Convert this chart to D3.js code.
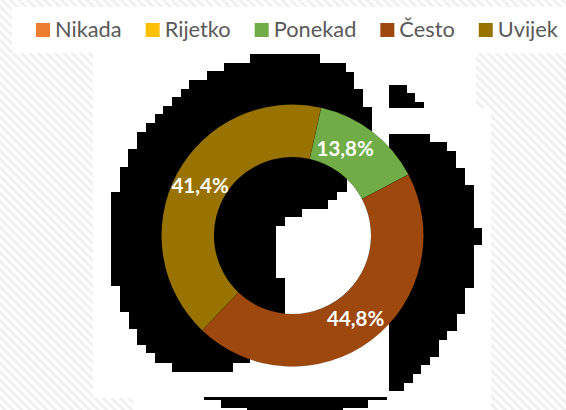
<!DOCTYPE html>
<html>
<head>
<meta charset="utf-8">
<script src="https://cdn.jsdelivr.net/npm/d3@7"></script>
<style>
  html, body { margin: 0; padding: 0; background: #fff; }
  svg { display: block; }
</style>
</head>
<body>
<svg id="chart" width="566" height="410"></svg>
<script>
// ---- data ----
const categories = ["Nikada", "Rijetko", "Ponekad", "Često", "Uvijek"];
const values = [0, 0, 13.8, 44.8, 41.4];
const colors = ["#ED7D31", "#FFC000", "#70AD47", "#9E480E", "#997300"];

// ---- decoration (background artefacts of the picture) ----
const shadowMain = [
  [250,54],[320,54],[320,63],[346,63],[346,72],[354,72],[354,89],[363,89],[363,107],[372,107],
  [372,150],[389,150],[389,134],[430,134],[430,142],[447,142],[447,151],[456,151],[456,168],
  [465,168],[465,185],[474,185],[474,228],[482,228],[482,245],[474,245],[474,288],[465,288],
  [465,314],[457,314],[457,331],[447,331],[447,340],[439,340],[439,357],[430,357],[430,365],
  [421,365],[421,374],[413,374],[413,383],[404,383],[404,391],[389,391],[389,320],[250,350],
  [250,363],[233,363],[233,372],[172,372],[172,363],[155,363],[155,353],[146,353],[146,345],
  [137,345],[137,329],[129,329],[129,312],[120,312],[120,286],[111,286],[111,192],[120,192],
  [120,167],[128,167],[128,149],[137,149],[137,132],[146,132],[146,123],[155,123],[155,114],
  [163,114],[163,106],[172,106],[172,97],[181,97],[181,89],[189,89],[189,80],[207,80],[207,71],
  [224,71],[224,63],[250,63]
];
const shadowTri = [[389,85],[407,85],[407,93],[415,93],[415,102],[424,102],[424,108],[389,108]];
const shadowBottom = [[204,397],[387,397],[387,400],[368,400],[368,408],[343,408],[343,410],
  [247,410],[247,408],[221,408],[221,400],[204,400]];
const holeWhite = [[347,150],[347,192],[337,192],[337,200],[328,200],[328,209],[302,209],[302,217],
  [285,217],[285,226],[276,226],[276,278],[285,278],[285,330],[420,330],[420,150]];
const plotArea = [[93,53],[476,53],[476,108],[491,108],[491,410],[133,410],[133,398],[93,398]];

const W = 566, H = 410;
const cx = 292.5, cy = 235.5, rOuter = 131, rInner = 78.5;
const startDeg = 12.6;

const svg = d3.select("#chart");
const defs = svg.append("defs");

const pat = defs.append("pattern")
  .attr("id", "hatch").attr("patternUnits", "userSpaceOnUse")
  .attr("width", 6).attr("height", 6)
  .attr("patternTransform", "rotate(-45)");
pat.append("rect").attr("width", 6).attr("height", 6).attr("fill", "#ffffff");
pat.append("rect").attr("width", 3).attr("height", 6).attr("fill", "#f0f0f0");

svg.append("rect").attr("width", W).attr("height", H).attr("fill", "url(#hatch)");

const line = d3.line();
svg.append("path").attr("d", line(plotArea) + "Z").attr("fill", "#fff");
svg.append("rect").attr("x", 12).attr("y", 7).attr("width", W - 12).attr("height", 46).attr("fill", "#fff");

[shadowMain, shadowTri, shadowBottom].forEach(p =>
  svg.append("path").attr("d", line(p) + "Z").attr("fill", "#000"));

// ---- donut ----
const data = categories.map((c, i) => ({ cat: c, value: values[i], color: colors[i] }));
const start = startDeg * Math.PI / 180;
const pie = d3.pie().value(d => d.value).sort(null)
  .startAngle(start).endAngle(start + 2 * Math.PI);
const arc = d3.arc().innerRadius(rInner).outerRadius(rOuter);
const g = svg.append("g").attr("transform", `translate(${cx},${cy})`);
const arcs = pie(data);

g.selectAll("path.slice").data(arcs.filter(a => a.data.value > 0)).join("path")
  .attr("class", "slice")
  .attr("d", arc)
  .attr("fill", d => d.data.color)
  .attr("stroke", "rgba(0,0,0,0.15)").attr("stroke-width", 0.6);

// white part inside the hole
defs.append("clipPath").attr("id", "holeClip")
  .append("circle").attr("cx", cx).attr("cy", cy).attr("r", rInner);
svg.append("path").attr("d", line(holeWhite) + "Z").attr("fill", "#fff")
  .attr("clip-path", "url(#holeClip)");

// labels
const labelArc = d3.arc().innerRadius((rInner + rOuter) / 2).outerRadius((rInner + rOuter) / 2);
const labelNudge = { "Ponekad": [-11, -4] };
const fmt = v => d3.format(".1f")(v).replace(".", ",") + "%";
g.selectAll("text.lbl").data(arcs.filter(a => a.data.value > 0)).join("text")
  .attr("class", "lbl")
  .attr("transform", d => {
    const c = labelArc.centroid(d);
    const n = labelNudge[d.data.cat] || [0, 0];
    return `translate(${c[0] + n[0]},${c[1] + n[1]})`;
  })
  .attr("text-anchor", "middle")
  .attr("dy", "0.35em")
  .attr("fill", "#fff")
  .attr("font-family", "Lato, 'Open Sans', sans-serif")
  .attr("font-weight", "bold")
  .attr("font-size", 20.5)
  .text(d => fmt(d.data.value));

// ---- legend ----
const legend = svg.append("g");
let lx = 36;
data.forEach(d => {
  const item = legend.append("g");
  item.append("rect").attr("x", lx).attr("y", 23).attr("width", 14).attr("height", 14).attr("fill", d.color);
  const t = item.append("text").attr("x", lx + 19).attr("y", 37)
    .attr("fill", "#595959")
    .attr("font-family", "Lato, 'Open Sans', sans-serif")
    .attr("font-size", 21.8)
    .text(d.cat);
  lx += 19 + t.node().getComputedTextLength() + 24;
});
</script>
</body>
</html>
